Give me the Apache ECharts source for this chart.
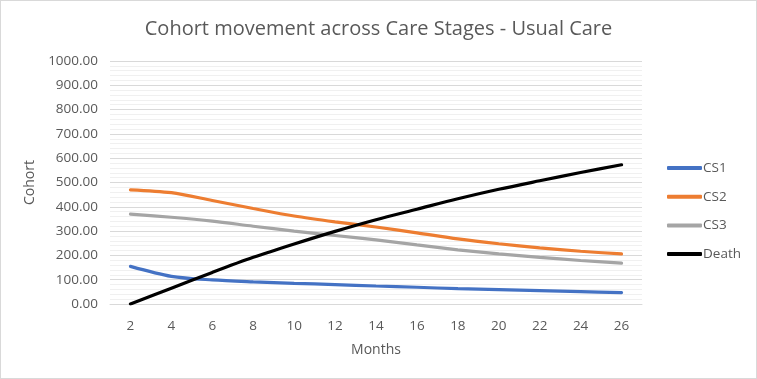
<!DOCTYPE html>
<html>
<head>
<meta charset="utf-8">
<script src="https://cdn.jsdelivr.net/npm/echarts@6/dist/echarts.min.js"></script>
<style>
html,body{margin:0;padding:0;background:#fff;}
#c{width:757px;height:379px;box-sizing:border-box;border:1px solid #d9d9d9;}
</style>
</head>
<body>
<div id="c"></div>
<script>
const months = ['2','4','6','8','10','12','14','16','18','20','22','24','26'];
const cs1 = [155,114,99,91,85,80,74,69,63,59,55,51,47];
const cs2 = [470,458,426,393,362,338,317,293,268,248,231,217,206];
const cs3 = [370,357,341,320,300,282,264,243,223,206,192,179,168];
const death = [0,65,130,192,247,299,347,390,433,472,507,541,573];
const yTicks = [0,100,200,300,400,500,600,700,800,900,1000];

const FONT = '"Open Sans", "Noto Sans", sans-serif';
const chart = echarts.init(document.getElementById('c'), null, {renderer:'canvas'});
const mk = (name, data, color) => ({
  name, type:'line', data, smooth:0.3, symbol:'none',
  lineStyle:{color, width:3.2, cap:'round'}, itemStyle:{color}
});
chart.setOption({
  animation:false,
  textStyle:{fontFamily:FONT},
  title:{
    text:'Cohort movement across Care Stages - Usual Care',
    left:'center', top:13,
    textStyle:{fontFamily:FONT, fontSize:20, fontWeight:'normal', color:'#595959'}
  },
  legend:{
    orient:'vertical', left:661, top:155,
    itemWidth:35, itemHeight:4, itemGap:14.7,
    icon:'roundRect',
    textStyle:{fontFamily:FONT, fontSize:13.5, color:'#595959', padding:[0,0,0,-4]},
    data:['CS1','CS2','CS3','Death']
  },
  grid:{left:109, right:114, top:60, bottom:74, containLabel:false},
  xAxis:{
    type:'category', data:months, boundaryGap:true,
    name:'Months', nameLocation:'middle', nameGap:39,
    nameTextStyle:{fontFamily:FONT, fontSize:14, color:'#595959'},
    axisLine:{lineStyle:{color:'#d9d9d9', width:1}},
    axisTick:{show:false},
    axisLabel:{fontFamily:FONT, fontSize:13.5, color:'#595959', margin:15}
  },
  yAxis:{
    type:'value', min:yTicks[0], max:yTicks[yTicks.length-1], interval:100,
    name:'Cohort', nameLocation:'middle', nameGap:66, nameRotate:90,
    nameTextStyle:{fontFamily:FONT, fontSize:14, color:'#595959'},
    axisLine:{show:false}, axisTick:{show:false},
    axisLabel:{fontFamily:FONT, fontSize:13.5, color:'#595959', margin:12,
      formatter:v=>v.toFixed(2)},
    splitLine:{lineStyle:{color:'#d9d9d9', width:1}},
    minorTick:{show:false, splitNumber:5},
    minorSplitLine:{show:true, lineStyle:{color:'#f0f0f0', width:1}}
  },
  series:[
    mk('CS1', cs1, '#4472C4'),
    mk('CS2', cs2, '#ED7D31'),
    mk('CS3', cs3, '#A5A5A5'),
    mk('Death', death, '#000000')
  ]
});
</script>
</body>
</html>
